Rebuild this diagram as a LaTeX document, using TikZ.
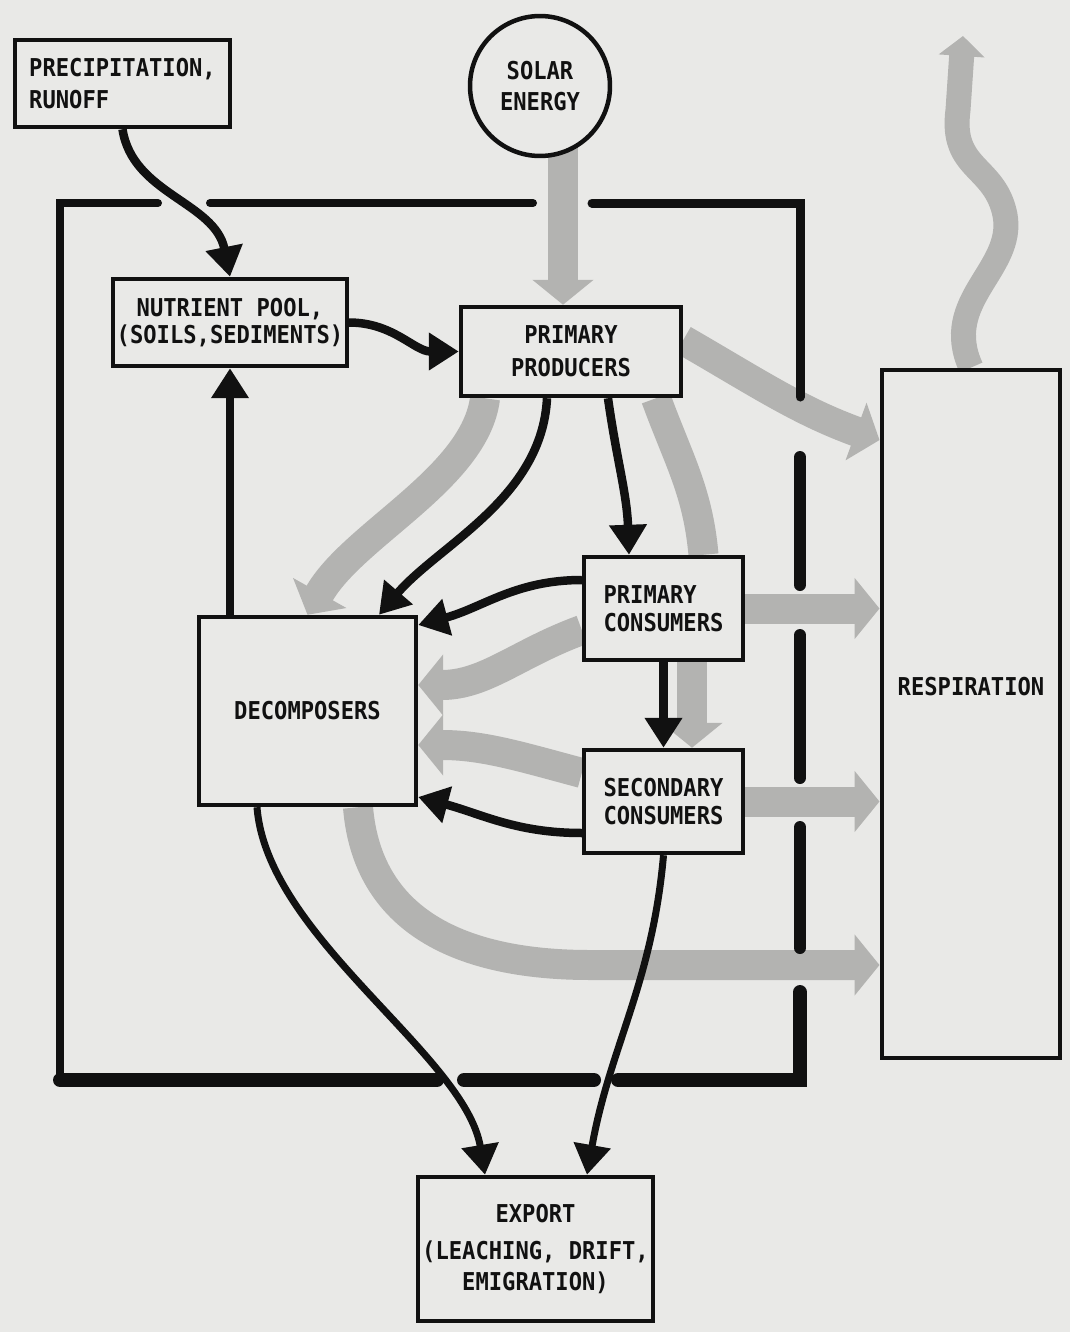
\documentclass[tikz,border=0pt]{standalone}
\usepackage{fontspec}
\usepackage{xcolor}
\usepackage{tikz}
\usetikzlibrary{arrows.meta, positioning}
\newfontfamily\labelfont{DejaVu Sans Mono}[FakeStretch=0.9]
\definecolor{paper}{HTML}{E9E9E7}
\definecolor{ink}{HTML}{111111}
\definecolor{shade}{HTML}{B3B3B1}
\pgfdeclarelayer{paperlayer}
\pgfdeclarelayer{energylayer}
\pgfsetlayers{paperlayer,energylayer,main}

\begin{document}
\begin{tikzpicture}[x=0.02cm, y=-0.02cm,
    box/.style={rectangle, draw=ink, line width=0.09cm, fill=paper, inner sep=2pt, text=ink, font={\labelfont\bfseries\fontsize{14pt}{15.8pt}\selectfont}, align=center},
    sun/.style={circle, draw=ink, line width=0.09cm, fill=paper, inner sep=0pt, text=ink, font={\labelfont\bfseries\fontsize{14pt}{15.8pt}\selectfont}, align=center},
    flow/.style={-{Triangle[length=0.6cm, width=0.72cm]}, line width=0.17cm, draw=ink},
    energy/.style={-{Triangle[length=0.5cm, width=1.2cm]}, line width=0.6cm, draw=shade, color=shade},
    wall/.style={line width=0.16cm, line cap=round, draw=ink}
]
    \useasboundingbox (0,0) rectangle (1070,1332);
    \begin{pgfonlayer}{paperlayer}
        \fill[paper] (0,0) rectangle (1070,1332);
    \end{pgfonlayer}

    % Sources
    \node[box, minimum width=4.3cm, minimum height=1.74cm, align=left] (precip) at (122.5,83.5) {PRECIPITATION,\\[0.1cm]RUNOFF};
    \node[sun, minimum size=2.8cm] (solar) at (540,86) {SOLAR\\[0.05cm]ENERGY};

    % Compartments
    \node[box, minimum width=4.64cm, minimum height=1.74cm] (pool) at (230,322.5) {NUTRIENT POOL,\\(SOILS,SEDIMENTS)};
    \node[box, minimum width=4.4cm, minimum height=1.78cm] (producers) at (571,351.5) {PRIMARY\\[0.1cm]PRODUCERS};
    \node[box, minimum width=3.18cm, minimum height=2.06cm, align=left] (primcons) at (663.5,608.5) {PRIMARY\\CONSUMERS};
    \node[box, minimum width=3.18cm, minimum height=2.06cm, align=left] (seccons) at (663.5,801.5) {SECONDARY\\CONSUMERS};
    \node[box, minimum width=4.34cm, minimum height=3.76cm] (decomp) at (307.5,711) {DECOMPOSERS};

    % Sinks
    \node[box, line width=0.08cm, minimum width=3.58cm, minimum height=13.78cm] (resp) at (971,714) {};
    \node[box, draw=none, fill=none] (resplabel) at ([yshift=0.54cm]resp.center) {RESPIRATION};
    \node[box, minimum width=4.7cm, minimum height=2.88cm] (export) at (535.5,1249) {EXPORT\\[0.18cm](LEACHING, DRIFT,\\[0.08cm]EMIGRATION)};

    \coordinate (sunfoot) at ([xshift=-0.16cm]producers.north);
    \coordinate (heat) at (963,36);
    \coordinate (bend) at (590,965);

    % Energy flow
    \begin{pgfonlayer}{energylayer}
        \draw[energy] (sunfoot |- solar.center) -- (sunfoot);
        \draw[energy, line width=0.5cm, -{Triangle[length=0.4cm, width=0.9cm]}] (resp.north) .. controls (940,300) and (1015,270) .. (1005,215) .. controls (995,165) and (950,170) .. (958,110) -- (heat);
        \draw[energy] ([yshift=0.23cm]producers.east) to[out=-30,in=160] ([yshift=5.48cm]resp.west);
        \draw[energy, -] ([xshift=1.7cm]producers.south) to[out=-70,in=95] ([xshift=0.8cm]primcons.north);
        \draw[energy] ([xshift=-1.72cm]producers.south) .. controls +(-0.2cm,-1.6cm) and +(0.9cm,1.6cm) .. (decomp.north);
        \draw[energy] (primcons.east) -- (primcons.east -| resp.west);
        \draw[energy] ([xshift=0.57cm]primcons.south) -- ([xshift=0.57cm]seccons.north);
        \draw[energy] ([yshift=-0.43cm]primcons.west) to[out=200,in=0] ([yshift=0.52cm]decomp.east);
        \draw[energy] ([yshift=0.57cm]seccons.west) to[out=165,in=0] ([yshift=-0.68cm]decomp.east);
        \draw[energy] (seccons.east) -- (seccons.east -| resp.west);
        \draw[energy] ([xshift=1.01cm]decomp.south) .. controls +(0.2cm,-2.4cm) and +(-2.4cm,0) .. (bend) -- (bend -| resp.west);
    \end{pgfonlayer}

    % System boundary
    \draw[wall] (158,203) -- (60,203) -- (60,1080);
    \draw[wall] (210,203) -- (533,203);
    \draw[wall, line width=0.18cm] (592,203) -- (800,203) -- (800,397);
    \draw[wall, line width=0.24cm] (800,457) -- (800,585);
    \draw[wall, line width=0.24cm] (800,635) -- (800,778);
    \draw[wall, line width=0.24cm] (800,827) -- (800,948);
    \draw[wall, line width=0.28cm] (800,992) -- (800,1080) -- (618,1080);
    \draw[wall, line width=0.28cm] (594,1080) -- (464,1080);
    \draw[wall, line width=0.28cm] (437,1080) -- (60,1080);

    % Material flow
    \draw[flow] (precip.south) .. controls +(0.2cm,-1.3cm) and +(-0.3cm,1.5cm) .. (pool.north);
    \draw[flow] (pool.east) to[out=0,in=180] (producers.west);
    \draw[flow] (decomp.north -| pool.south) -- (pool.south);
    \draw[flow] ([xshift=-0.48cm]producers.south) .. controls +(-0.1cm,-2cm) and +(1.2cm,1.4cm) .. ([xshift=1.43cm]decomp.north);
    \draw[flow] ([xshift=0.74cm]producers.south) to[out=-82,in=92] ([xshift=-0.69cm]primcons.north);
    \draw[flow] ([yshift=0.57cm]primcons.west) to[out=180,in=15] ([yshift=1.72cm]decomp.east);
    \draw[flow] (primcons) -- (seccons);
    \draw[flow] ([yshift=-0.63cm]seccons.west) to[out=180,in=-15] ([yshift=-1.72cm]decomp.east);
    \draw[flow, line width=0.14cm] ([xshift=-1.01cm]decomp.south) .. controls +(0.2cm,-2.6cm) and +(-0.4cm,2.4cm) .. ([xshift=-1.01cm]export.north);
    \draw[flow, line width=0.14cm] (seccons.south) to[out=-95,in=80] ([xshift=1.03cm]export.north);
\end{tikzpicture}
\end{document}
